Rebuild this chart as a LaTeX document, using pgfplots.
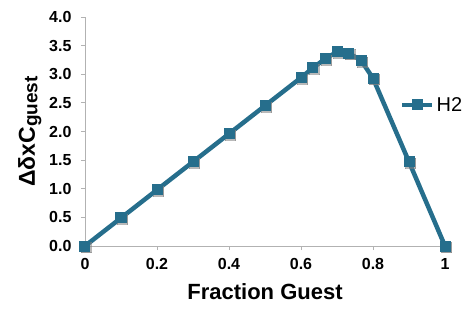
\documentclass[border=0pt]{standalone}
\usepackage{pgfplots}
\pgfplotsset{compat=1.18}
\usepackage{fontspec}
\setmainfont{Liberation Sans}
\definecolor{teal1}{RGB}{38,110,140}
\begin{document}
\begin{tikzpicture}
\begin{axis}[
  width=360pt, height=229pt, scale only axis,
  xmin=0, xmax=1, ymin=0, ymax=4,
  axis lines=left,
  axis line style={-, draw=gray!60, line width=0.8pt},
  tick style={draw=gray!60, line width=0.8pt},
  tick align=outside, major tick length=4pt,
  xtick={0,0.2,0.4,0.6,0.8,1},
  xticklabels={0,0.2,0.4,0.6,0.8,1},
  ytick={0,0.5,...,4},
  yticklabel style={/pgf/number format/fixed, /pgf/number format/fixed zerofill, /pgf/number format/precision=1, xshift=-6pt},
  /pgf/number format/assume math mode=true,
  ticklabel style={font=\fontsize{16}{16}\selectfont\bfseries},
  xticklabel style={yshift=-5pt},
  xlabel={Fraction Guest},
  xlabel style={font=\fontsize{22}{22}\selectfont\bfseries, yshift=-7pt},
  ylabel={ΔδxC\raisebox{-0.2ex}{\fontsize{19}{19}\selectfont guest}},
  ylabel style={font=\fontsize{23}{23}\selectfont\bfseries, yshift=1pt},
  clip=false,
  legend style={draw=none, fill=none, at={(0.875,0.616)}, anchor=west,
    font=\fontsize{20}{20}\selectfont, inner sep=0pt},
  legend image code/.code={\draw[#1, mark=none] (0pt,0pt) -- (30pt,0pt);
    \draw[#1, only marks] plot coordinates {(15pt,0pt)};},
]
\addplot[forget plot, only marks, mark=square*, mark size=5pt,
  mark options={draw=black!50, fill=black!50, line width=0pt}, opacity=0.55,
  every mark/.append style={xshift=1.5pt, yshift=-1.5pt}]
  coordinates {(0,0) (0.1,0.49) (0.2,0.98) (0.3,1.47) (0.4,1.96) (0.5,2.45)
  (0.6,2.94) (0.633,3.11) (0.667,3.27) (0.7,3.39) (0.733,3.37) (0.767,3.24)
  (0.8,2.93) (0.9,1.47) (1,0)};
\addplot[teal1, line width=4.5pt, mark=square*, mark size=5pt,
  mark options={solid, line width=0pt, fill=teal1}]
  coordinates {(0,0) (0.1,0.49) (0.2,0.98) (0.3,1.47) (0.4,1.96) (0.5,2.45)
  (0.6,2.94) (0.633,3.11) (0.667,3.27) (0.7,3.39) (0.733,3.37) (0.767,3.24)
  (0.8,2.93) (0.9,1.47) (1,0)};
\addlegendentry{H2}
\coordinate (bl) at (rel axis cs:0,0);
\coordinate (tr) at (rel axis cs:1,1);
\end{axis}
\pgfresetboundingbox
\path ([shift={(-85pt,-70pt)}]bl) rectangle ([shift={(25pt,17pt)}]tr);
\end{tikzpicture}
\end{document}
